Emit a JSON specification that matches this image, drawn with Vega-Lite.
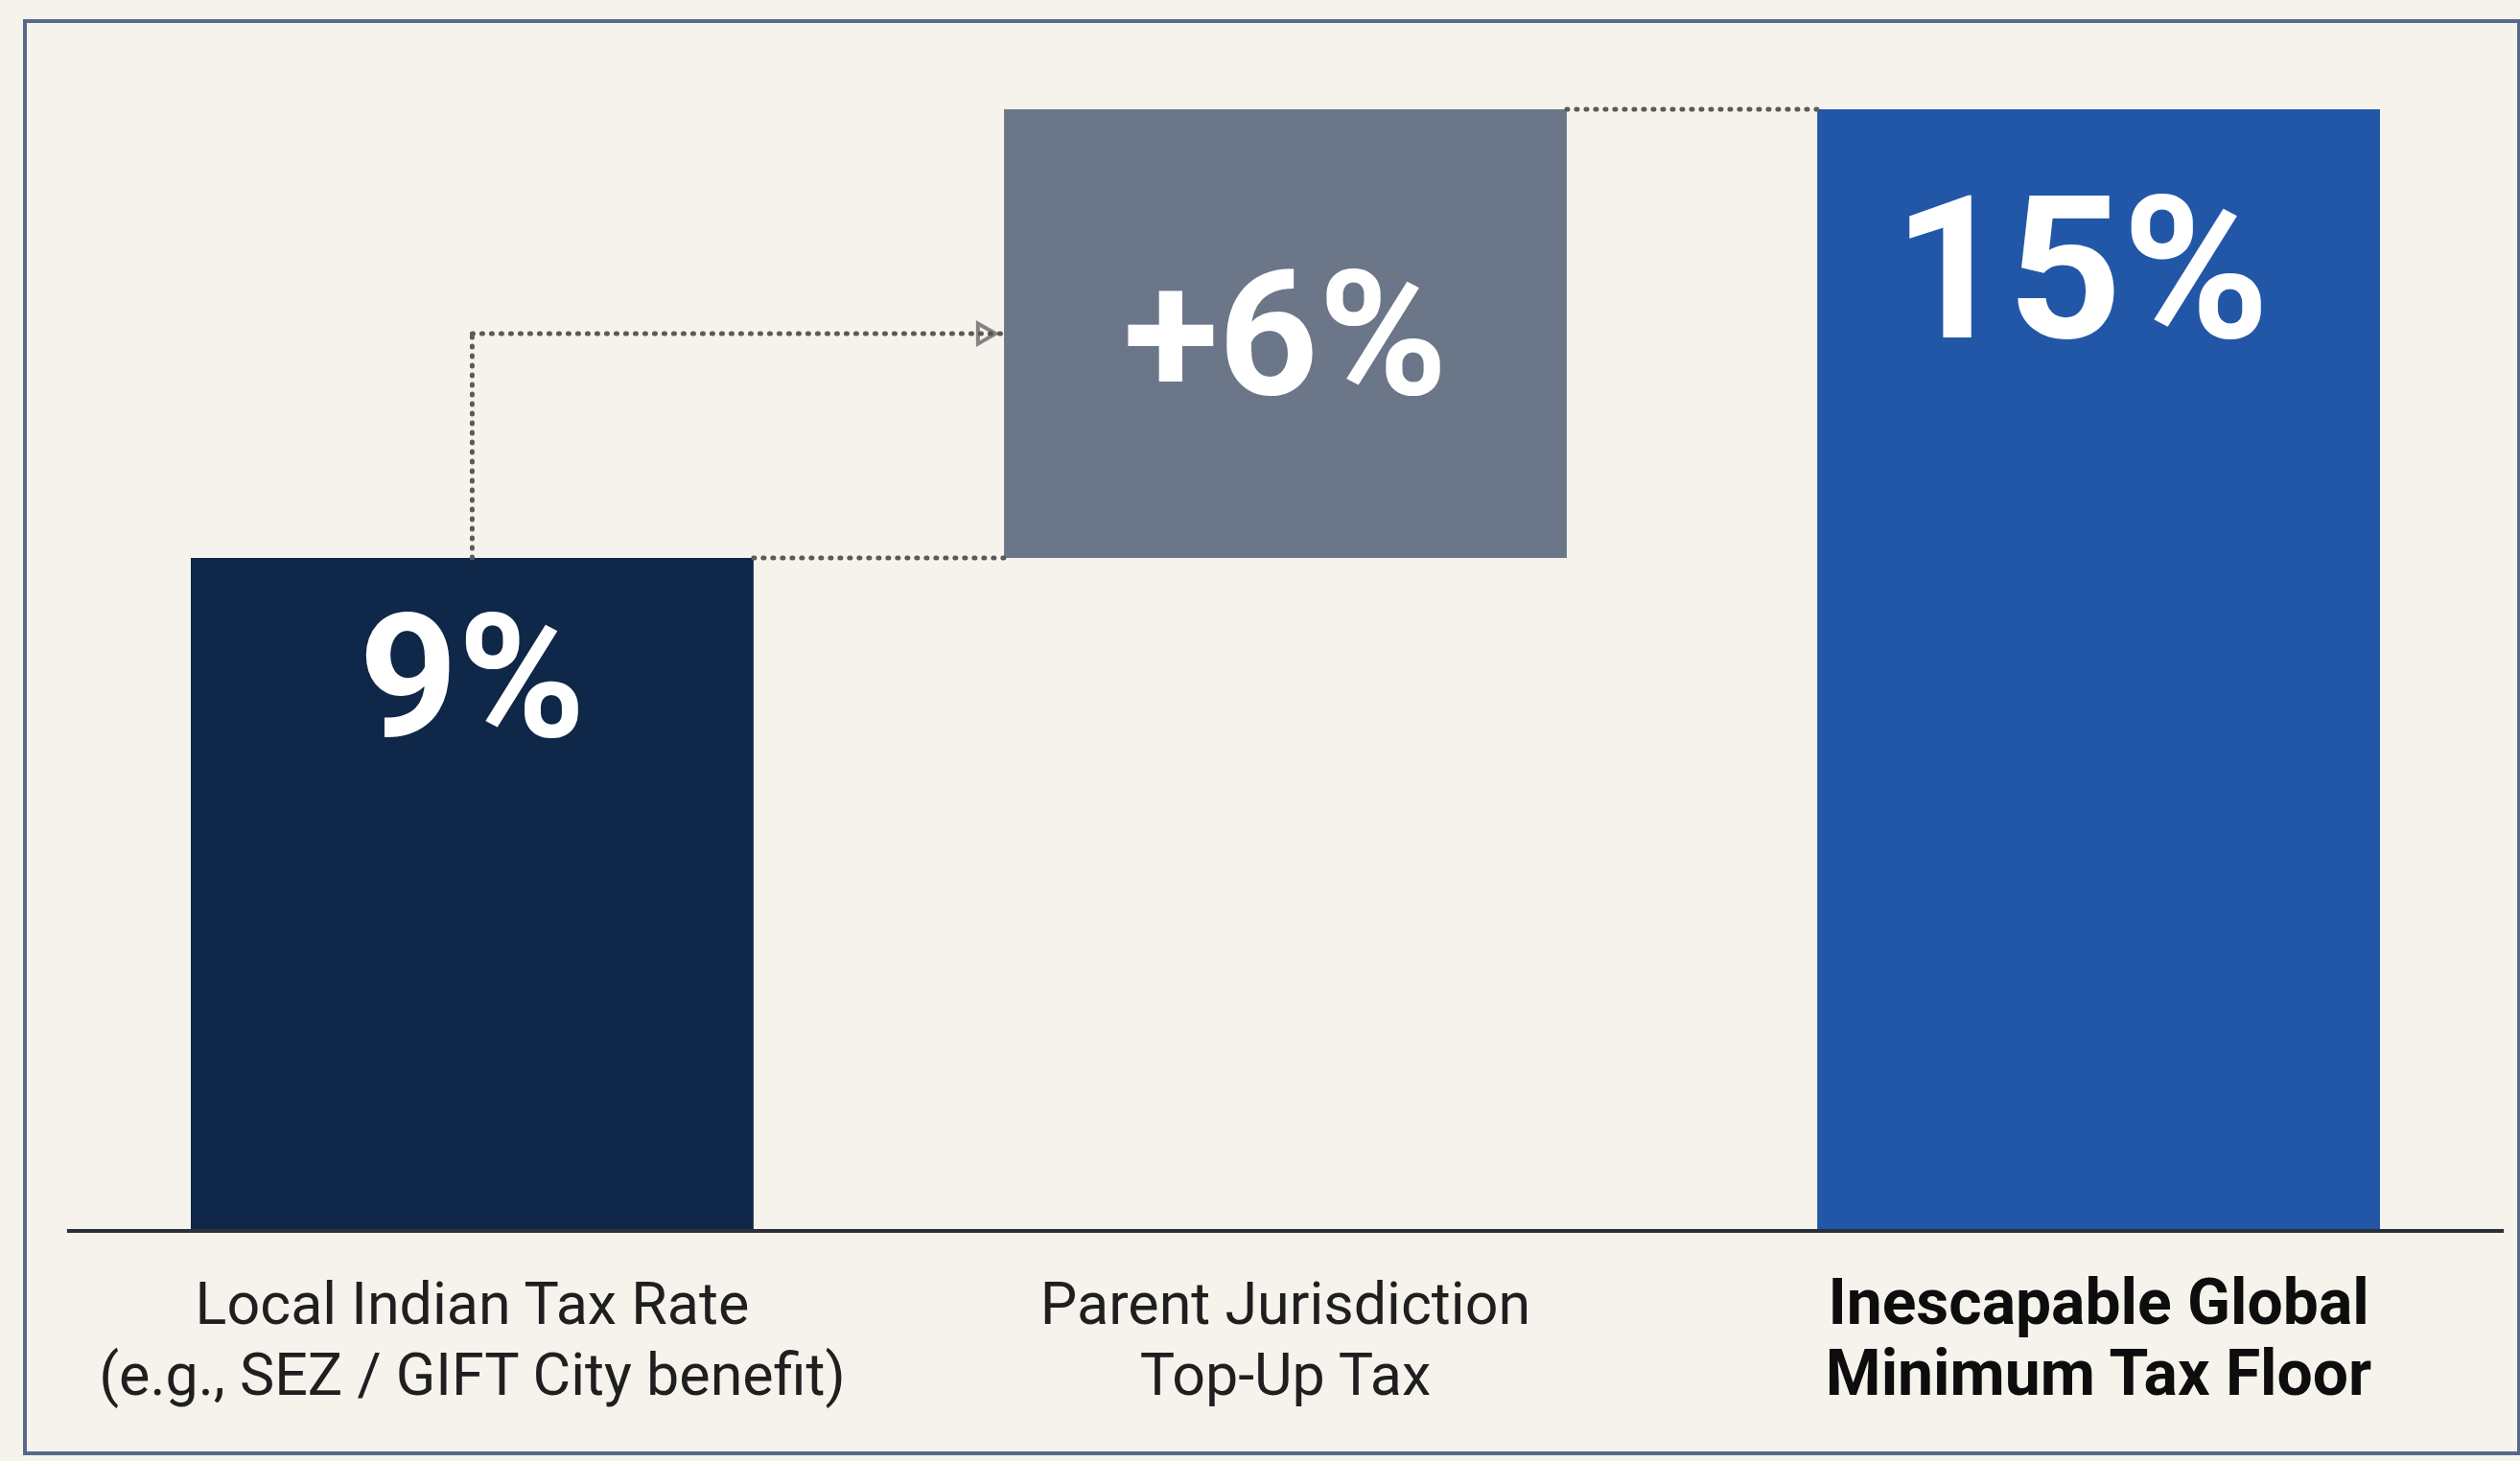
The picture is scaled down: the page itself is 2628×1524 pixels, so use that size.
{
  "$schema": "https://vega.github.io/schema/vega-lite/v6.json",
  "width": 2601,
  "height": 1494,
  "autosize": {"type": "none"},
  "padding": {"left": 26, "top": 22, "right": 1, "bottom": 8},
  "background": "#f6f3ed",
  "view": {"stroke": "#56698a", "strokeWidth": 4, "fill": "#f6f3ed"},
  "datasets": {
    "bars": [
      {"cat": "local", "label": "Local Indian Tax Rate\n(e.g., SEZ / GIFT City benefit)", "start": 0, "end": 9, "text": "9%"},
      {"cat": "parent", "label": "Parent Jurisdiction\nTop-Up Tax", "start": 9, "end": 15, "text": "+6%"},
      {"cat": "global", "label": "Inescapable Global\nMinimum Tax Floor", "start": 0, "end": 15, "text": "15%"}
    ],
    "links": [
      {"from": "local", "to": "parent", "level": 9},
      {"from": "parent", "to": "global", "level": 15}
    ],
    "arrow": [
      {"from": "local", "to": "parent", "low": 9, "level": 12}
    ]
  },
  "encoding": {
    "x": {
      "field": "cat", "type": "nominal", "sort": ["local", "parent", "global"],
      "scale": {"domain": ["local", "parent", "global"], "paddingInner": 0.308, "paddingOuter": 0.1875, "align": 0.544},
      "axis": null
    }
  },
  "layer": [
    {
      "data": {"name": "bars"},
      "mark": {"type": "bar"},
      "encoding": {
        "y": {"field": "start", "type": "quantitative", "scale": {"domain": [-2.974, 16.18], "nice": false, "zero": false}, "axis": null},
        "y2": {"field": "end"},
        "color": {"field": "cat", "type": "nominal", "scale": {"domain": ["local", "parent", "global"], "range": ["#0f2748", "#6b7689", "#2257a8"]}, "legend": null}
      }
    },
    {
      "data": {"name": "bars"},
      "mark": {"type": "rule", "color": "#2b313b", "strokeWidth": 4},
      "encoding": {
        "x": {"field": "cat", "type": "nominal", "bandPosition": -0.22},
        "x2": {"datum": "global", "bandPosition": 1.22},
        "y": {"datum": 0}
      },
      "transform": [{"filter": "datum.cat === 'local'"}]
    },
    {
      "data": {"name": "links"},
      "mark": {"type": "rule", "color": "#5a5a5a", "strokeWidth": 5, "strokeDash": [1, 9], "strokeCap": "round"},
      "encoding": {
        "x": {"field": "from", "type": "nominal", "bandPosition": 1},
        "x2": {"field": "to", "bandPosition": 0},
        "y": {"field": "level", "type": "quantitative"}
      }
    },
    {
      "data": {"name": "arrow"},
      "mark": {"type": "rule", "color": "#5a5a5a", "strokeWidth": 5, "strokeDash": [1, 9], "strokeCap": "round"},
      "encoding": {
        "x": {"field": "from", "type": "nominal"},
        "y": {"field": "low", "type": "quantitative"},
        "y2": {"field": "level"}
      }
    },
    {
      "data": {"name": "arrow"},
      "mark": {"type": "rule", "color": "#5a5a5a", "strokeWidth": 5, "strokeDash": [1, 9], "strokeCap": "round"},
      "encoding": {
        "x": {"field": "from", "type": "nominal"},
        "x2": {"field": "to", "bandPosition": 0},
        "y": {"field": "level", "type": "quantitative"}
      }
    },
    {
      "data": {"name": "arrow"},
      "mark": {"type": "point", "shape": "triangle-right", "filled": false, "stroke": "#555555", "strokeWidth": 4, "size": 450, "xOffset": -18},
      "encoding": {
        "x": {"field": "to", "type": "nominal", "bandPosition": 0},
        "y": {"field": "level", "type": "quantitative"}
      }
    },
    {
      "data": {"name": "bars"},
      "transform": [{"filter": "datum.cat === 'local'"}],
      "mark": {"type": "text", "font": "Roboto", "fontWeight": "bold", "fontSize": 180, "color": "#ffffff", "align": "center", "baseline": "alphabetic", "dy": 186},
      "encoding": {"y": {"field": "end", "type": "quantitative"}, "text": {"field": "text"}}
    },
    {
      "data": {"name": "bars"},
      "transform": [{"filter": "datum.cat === 'parent'"}],
      "mark": {"type": "text", "font": "Roboto", "fontWeight": "bold", "fontSize": 182, "color": "#ffffff", "align": "center", "baseline": "alphabetic", "dy": 297},
      "encoding": {"y": {"field": "end", "type": "quantitative"}, "text": {"field": "text"}}
    },
    {
      "data": {"name": "bars"},
      "transform": [{"filter": "datum.cat === 'global'"}],
      "mark": {"type": "text", "font": "Roboto", "fontWeight": "bold", "fontSize": 208, "color": "#ffffff", "align": "center", "baseline": "alphabetic", "dy": 238, "dx": -18},
      "encoding": {"y": {"field": "end", "type": "quantitative"}, "text": {"field": "text"}}
    },
    {
      "data": {"name": "bars"},
      "transform": [{"filter": "datum.cat !== 'global'"}],
      "mark": {"type": "text", "font": "Roboto", "fontWeight": "normal", "fontSize": 61, "color": "#1f1f1f", "align": "center", "baseline": "alphabetic", "lineBreak": "\n", "lineHeight": 74, "dy": 97},
      "encoding": {"y": {"datum": 0}, "text": {"field": "label"}}
    },
    {
      "data": {"name": "bars"},
      "transform": [{"filter": "datum.cat === 'global'"}],
      "mark": {"type": "text", "font": "Roboto", "fontWeight": "bold", "fontSize": 66, "color": "#0d0d0d", "align": "center", "baseline": "alphabetic", "lineBreak": "\n", "lineHeight": 74, "dy": 97},
      "encoding": {"y": {"datum": 0}, "text": {"field": "label"}}
    }
  ]
}
